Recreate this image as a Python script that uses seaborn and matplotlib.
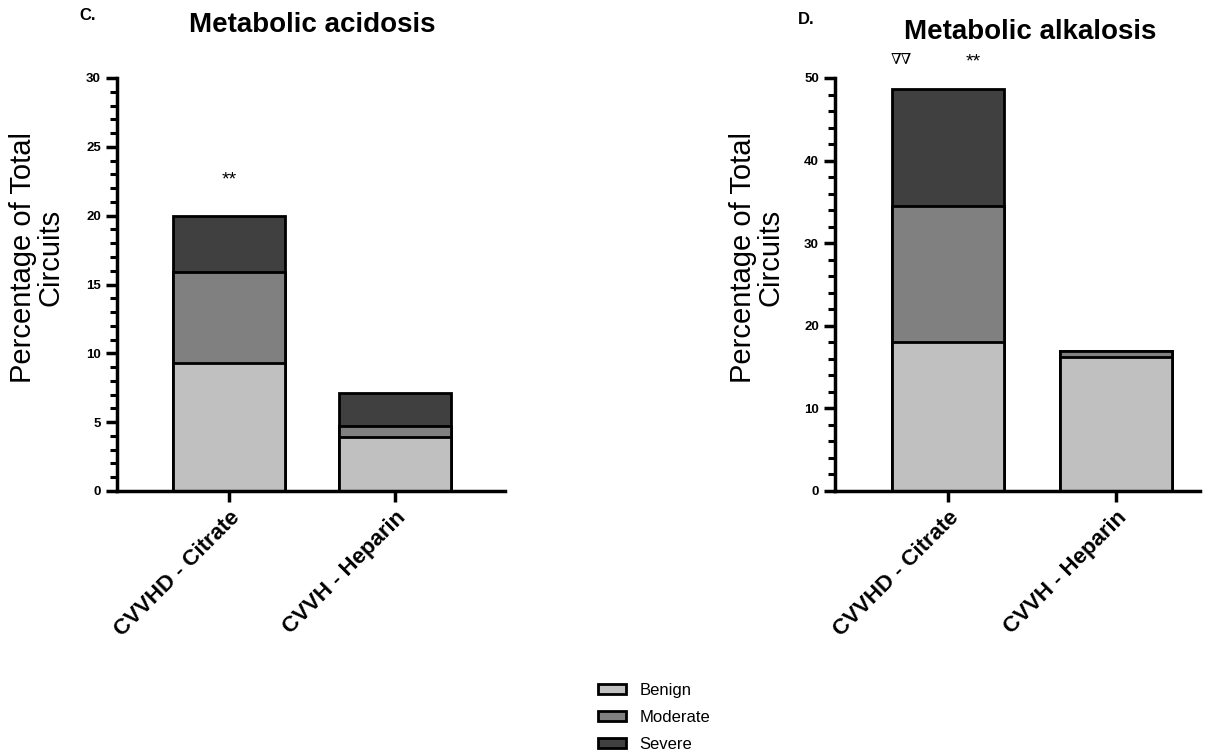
import matplotlib
matplotlib.use("Agg")
import matplotlib.pyplot as plt
import matplotlib.patches as mpatches
from matplotlib.ticker import MultipleLocator
import pandas as pd
import seaborn as sns

# --- data ---
groups = ["CVVHD - Citrate", "CVVH - Heparin"]
severity = ["Benign", "Moderate", "Severe"]
colors = {"Benign": "#c0c0c0", "Moderate": "#808080", "Severe": "#404040"}

acidosis_benign = [9.3, 3.9]
acidosis_moderate = [6.6, 0.8]
acidosis_severe = [4.1, 2.4]

alkalosis_benign = [18.0, 16.2]
alkalosis_moderate = [16.5, 0.8]
alkalosis_severe = [14.2, 0.0]

sns.set_theme(style="ticks")
plt.rcParams["font.family"] = ["Liberation Sans", "DejaVu Sans"]
for key in ["text.color", "axes.edgecolor", "axes.labelcolor", "xtick.color", "ytick.color"]:
    plt.rcParams[key] = "black"

W, H = 1226, 756
fig = plt.figure(figsize=(W / 100, H / 100), dpi=100)


def px_axes(x0, x1, y_top, y_bot):
    return fig.add_axes([x0 / W, 1 - y_bot / H, (x1 - x0) / W, (y_bot - y_top) / H])


def stacked(ax, benign, moderate, severe, ymax, major, minor, xlim, label_x):
    df = pd.DataFrame({"group": groups, "Benign": benign,
                       "Moderate": moderate, "Severe": severe})
    df["c1"] = df["Benign"]
    df["c2"] = df["c1"] + df["Moderate"]
    df["c3"] = df["c2"] + df["Severe"]
    # draw from the top of the stack down so each layer covers the one below
    for col, name in [("c3", "Severe"), ("c2", "Moderate"), ("c1", "Benign")]:
        sns.barplot(data=df, x="group", y=col, color=colors[name], width=0.67,
                    edgecolor="black", linewidth=2, saturation=1, ax=ax)
    ax.set_xlim(*xlim)
    ax.set_ylim(0, ymax)
    ax.yaxis.set_major_locator(MultipleLocator(major))
    ax.yaxis.set_minor_locator(MultipleLocator(minor))
    sns.despine(ax=ax)
    for s in ["left", "bottom"]:
        ax.spines[s].set_linewidth(2.5)
    ax.tick_params(axis="both", which="major", length=8, width=2.5, direction="out")
    ax.tick_params(axis="y", which="minor", length=5, width=2.2)
    ax.set_xlabel("")
    ax.set_ylabel("Percentage of Total\nCircuits", fontsize=21, linespacing=1.0)
    ax.yaxis.set_label_coords(label_x / W, 1 - 257 / H, transform=fig.transFigure)
    ax.yaxis.label.set_verticalalignment("center")
    for lab in ax.get_yticklabels():
        lab.set_fontweight("bold")
        lab.set_fontsize(9.5)
    ax.set_xticks(range(len(groups)))
    ax.set_xticklabels(groups, rotation=45, ha="right", rotation_mode="anchor",
                       fontweight="bold", fontsize=16)


ax1 = px_axes(117, 505, 78, 491)
stacked(ax1, acidosis_benign, acidosis_moderate, acidosis_severe,
        30, 5, 1, (-0.675, 1.663), 37)
ax1.text(0, 22.6, "**", ha="center", va="center", fontsize=14)

ax2 = px_axes(835, 1200, 78, 491)
stacked(ax2, alkalosis_benign, alkalosis_moderate, alkalosis_severe,
        50, 10, 2, (-0.675, 1.5), 757)
ax2.text(-0.28, 52.3, "\u2207\u2207", ha="center", va="center", fontsize=11,
         clip_on=False, family=["DejaVu Serif"])
ax2.text(0.15, 52.0, "**", ha="center", va="center", fontsize=14, clip_on=False)

# titles and panel letters
fig.text(312 / W, 1 - 25 / H, "Metabolic acidosis", ha="center", va="center",
         fontsize=20, fontweight="bold")
fig.text(1030 / W, 1 - 32 / H, "Metabolic alkalosis", ha="center", va="center",
         fontsize=20, fontweight="bold")
fig.text(88 / W, 1 - 15 / H, "C.", ha="center", va="center", fontsize=12, fontweight="bold")
fig.text(806 / W, 1 - 20 / H, "D.", ha="center", va="center", fontsize=12, fontweight="bold")

handles = [mpatches.Patch(facecolor=colors[s], edgecolor="black", linewidth=2, label=s)
           for s in severity]
fig.legend(handles=handles, loc="upper left", bbox_to_anchor=(591 / W, 1 - 676 / H),
           frameon=False, fontsize=12, handlelength=1.7, handleheight=0.6,
           labelspacing=0.72, handletextpad=0.8, borderaxespad=0)

fig.savefig("out.png", dpi=100)
